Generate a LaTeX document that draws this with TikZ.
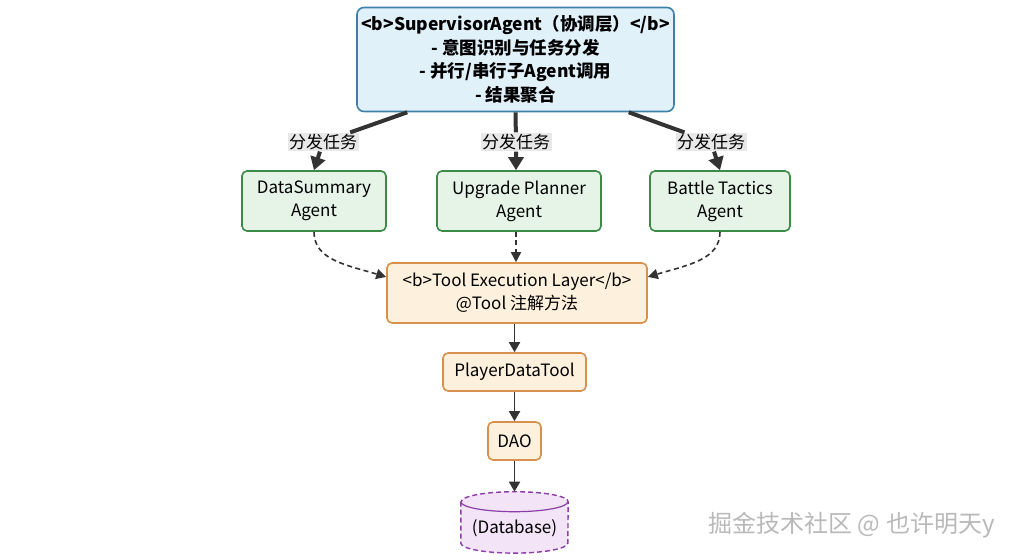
\documentclass[tikz,border=0pt]{standalone}
\usepackage{fontspec}
\setmainfont{Noto Sans CJK SC}
\usepackage{xcolor}
\usepackage{tikz}
\usetikzlibrary{arrows.meta}
\usetikzlibrary{calc}
\usetikzlibrary{backgrounds}

\definecolor{supfill}{HTML}{E1F1FA}
\definecolor{supline}{HTML}{3E80A8}
\definecolor{agfill}{HTML}{E5F4E6}
\definecolor{agline}{HTML}{3A8A48}
\definecolor{toolfill}{HTML}{FDF0DC}
\definecolor{toolline}{HTML}{D7914C}
\definecolor{dbfill}{HTML}{F3E4F7}
\definecolor{dbline}{HTML}{8B3FA6}
\definecolor{edgegray}{HTML}{333333}
\definecolor{labelbg}{HTML}{E8E8E8}

\tikzset{
  nodebox/.style={draw, line width=1.6pt, rounded corners=5pt, align=center, inner sep=0pt, font=\fontsize{17}{23}\selectfont},
  supbox/.style={nodebox, fill=supfill, draw=supline, rounded corners=7pt, minimum width=317pt, minimum height=104pt, font=\bfseries\fontsize{17.5}{23.5}\selectfont},
  agentbox/.style={nodebox, fill=agfill, draw=agline, minimum height=60pt},
  toolbox/.style={nodebox, fill=toolfill, draw=toolline},
  tasklabel/.style={fill=labelbg, inner sep=1.5pt, font=\fontsize{17}{19}\selectfont},
  task/.style={draw=edgegray, line width=4pt, -{Triangle[length=13pt,width=15pt]}},
  call/.style={draw=edgegray, line width=1.6pt, dash pattern=on 5pt off 3.5pt, -{Triangle[length=10pt,width=10pt]}},
  flow/.style={draw=edgegray, line width=1.8pt, -{Triangle[length=10pt,width=11pt]}},
}

\begin{document}
\begin{tikzpicture}[x=1pt,y=-1pt]
        \useasboundingbox (0,0) rectangle (1024,559);

        % coordination layer
        \node[supbox] (sup) at (515.5,59.5) {<b>SupervisorAgent（协调层）</b>\\- 意图识别与任务分发\\- 并行/串行子Agent调用\\- 结果聚合};

        % sub agents
        \node[agentbox, minimum width=144pt] (summary) at (314,201) {DataSummary\\Agent};
        \node[agentbox, minimum width=164pt] (planner) at (519,201) {Upgrade Planner\\Agent};
        \node[agentbox, minimum width=140pt] (tactics) at (720,201) {Battle Tactics\\Agent};

        \node[tasklabel] (t1) at (323,142) {分发任务};
        \node[tasklabel] (t2) at (516,142) {分发任务};
        \node[tasklabel] (t3) at (711,142) {分发任务};

        \draw[task] (sup.206) -- (t1) -- (summary.north);
        \draw[task] (sup.south) -- (t2) -- (t2 |- planner.north);
        \draw[task] (sup.335) -- (t3) -- (tactics.north);

        % tools
        \node[toolbox, minimum width=260pt, minimum height=60pt] (layer) at (517,293) {<b>Tool Execution Layer</b>\\@Tool 注解方法};
        \node[toolbox, minimum width=143pt, minimum height=38pt] (player) at (514.5,372) {PlayerDataTool};
        \node[toolbox, minimum width=53pt, minimum height=38pt] (dao) at (514.5,441) {DAO};
        \node[inner sep=0pt, minimum width=107pt, text height=42pt, text depth=19pt, anchor=north, font=\fontsize{17}{23}\selectfont] (db) at (514.5,491.7) {(Database)};

        \draw[call] (summary.south) .. controls +(0,28) and +(-40,-12) .. (layer.173);
        \draw[call] (planner.south -| t2) -- (t2 |- layer.north);
        \draw[call] (tactics.south) .. controls +(0,28) and +(40,-12) .. (layer.7);

        \draw[flow] (layer.south -| dao) -- (player.north -| dao);
        \draw[flow] (player.south -| dao) -- (dao.north);
        \draw[flow] (dao.south) -- (db.north);

        \begin{scope}[on background layer]
            \draw[dbline, fill=dbfill, line width=1.4pt, dash pattern=on 5pt off 3pt] ($(db.north west)+(0,10)$) -- ($(db.south west)+(0,-10)$) arc[start angle=180, end angle=0, x radius=53.5, y radius=10] -- ($(db.north east)+(0,10)$) arc[start angle=0, end angle=-180, x radius=53.5, y radius=10] -- cycle;
            \draw[dbline, line width=1.2pt] ($(db.north west)+(0,10)$) arc[start angle=180, end angle=0, x radius=53.5, y radius=10];
        \end{scope}

        \node[anchor=west, text=gray!55, font=\fontsize{24}{26}\selectfont] (mark) at (705,525) {掘金技术社区 @ 也许明天y};
    \end{tikzpicture}
\end{document}
